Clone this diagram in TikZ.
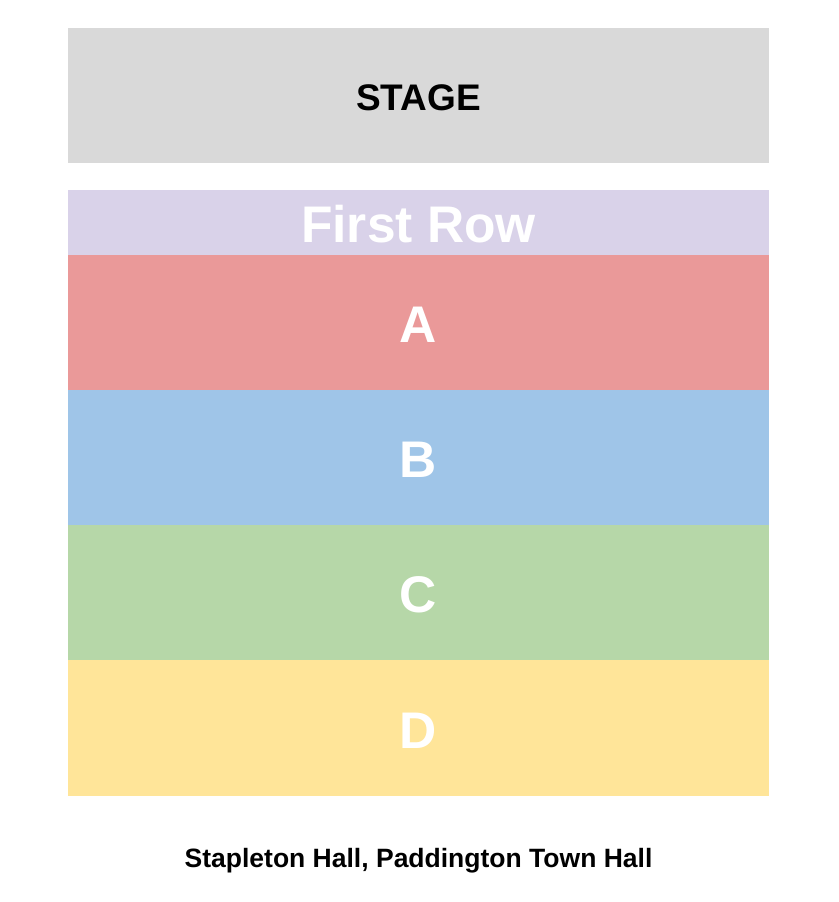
\documentclass[tikz,border=0pt]{standalone}
\usepackage{fontspec}
\setmainfont{Liberation Sans}
\usepackage{xcolor}
\usetikzlibrary{positioning}

\definecolor{stagegray}{HTML}{D9D9D9}
\definecolor{firstrow}{HTML}{D9D2E9}
\definecolor{rowA}{HTML}{EA9999}
\definecolor{rowB}{HTML}{9FC5E8}
\definecolor{rowC}{HTML}{B6D7A8}
\definecolor{rowD}{HTML}{FFE599}

\begin{document}
\begin{tikzpicture}[x=1pt,y=1pt,node distance=0pt,inner sep=0pt,outer sep=0pt]
  \tikzstyle{section}=[rectangle,draw=none,minimum width=701pt,minimum height=135pt,
                       text=white,text height=40.5pt,text depth=0pt,
                       font=\fontsize{51.5}{56}\selectfont\bfseries]

  \useasboundingbox (0,0) rectangle (838,-902);

  \node[section] (Stage) at (418.5,-95.5) [fill=stagegray, text=black, text height=30pt,
        font=\fontsize{37}{40}\selectfont\bfseries] {STAGE};
  \node[section] (First) [below=27pt of Stage, fill=firstrow, minimum height=65pt] {First Row};
  \node[section] (A) [below=of First, fill=rowA] {A};
  \node[section] (B) [below=of A, fill=rowB] {B};
  \node[section] (C) [below=of B, fill=rowC] {C};
  \node[section] (D) [below=of C, fill=rowD, minimum height=136pt] {D};

  \node[font=\fontsize{26.5}{30}\selectfont\bfseries] (Venue) at (418.5,-861)
        {Stapleton Hall, Paddington Town Hall};
\end{tikzpicture}
\end{document}
